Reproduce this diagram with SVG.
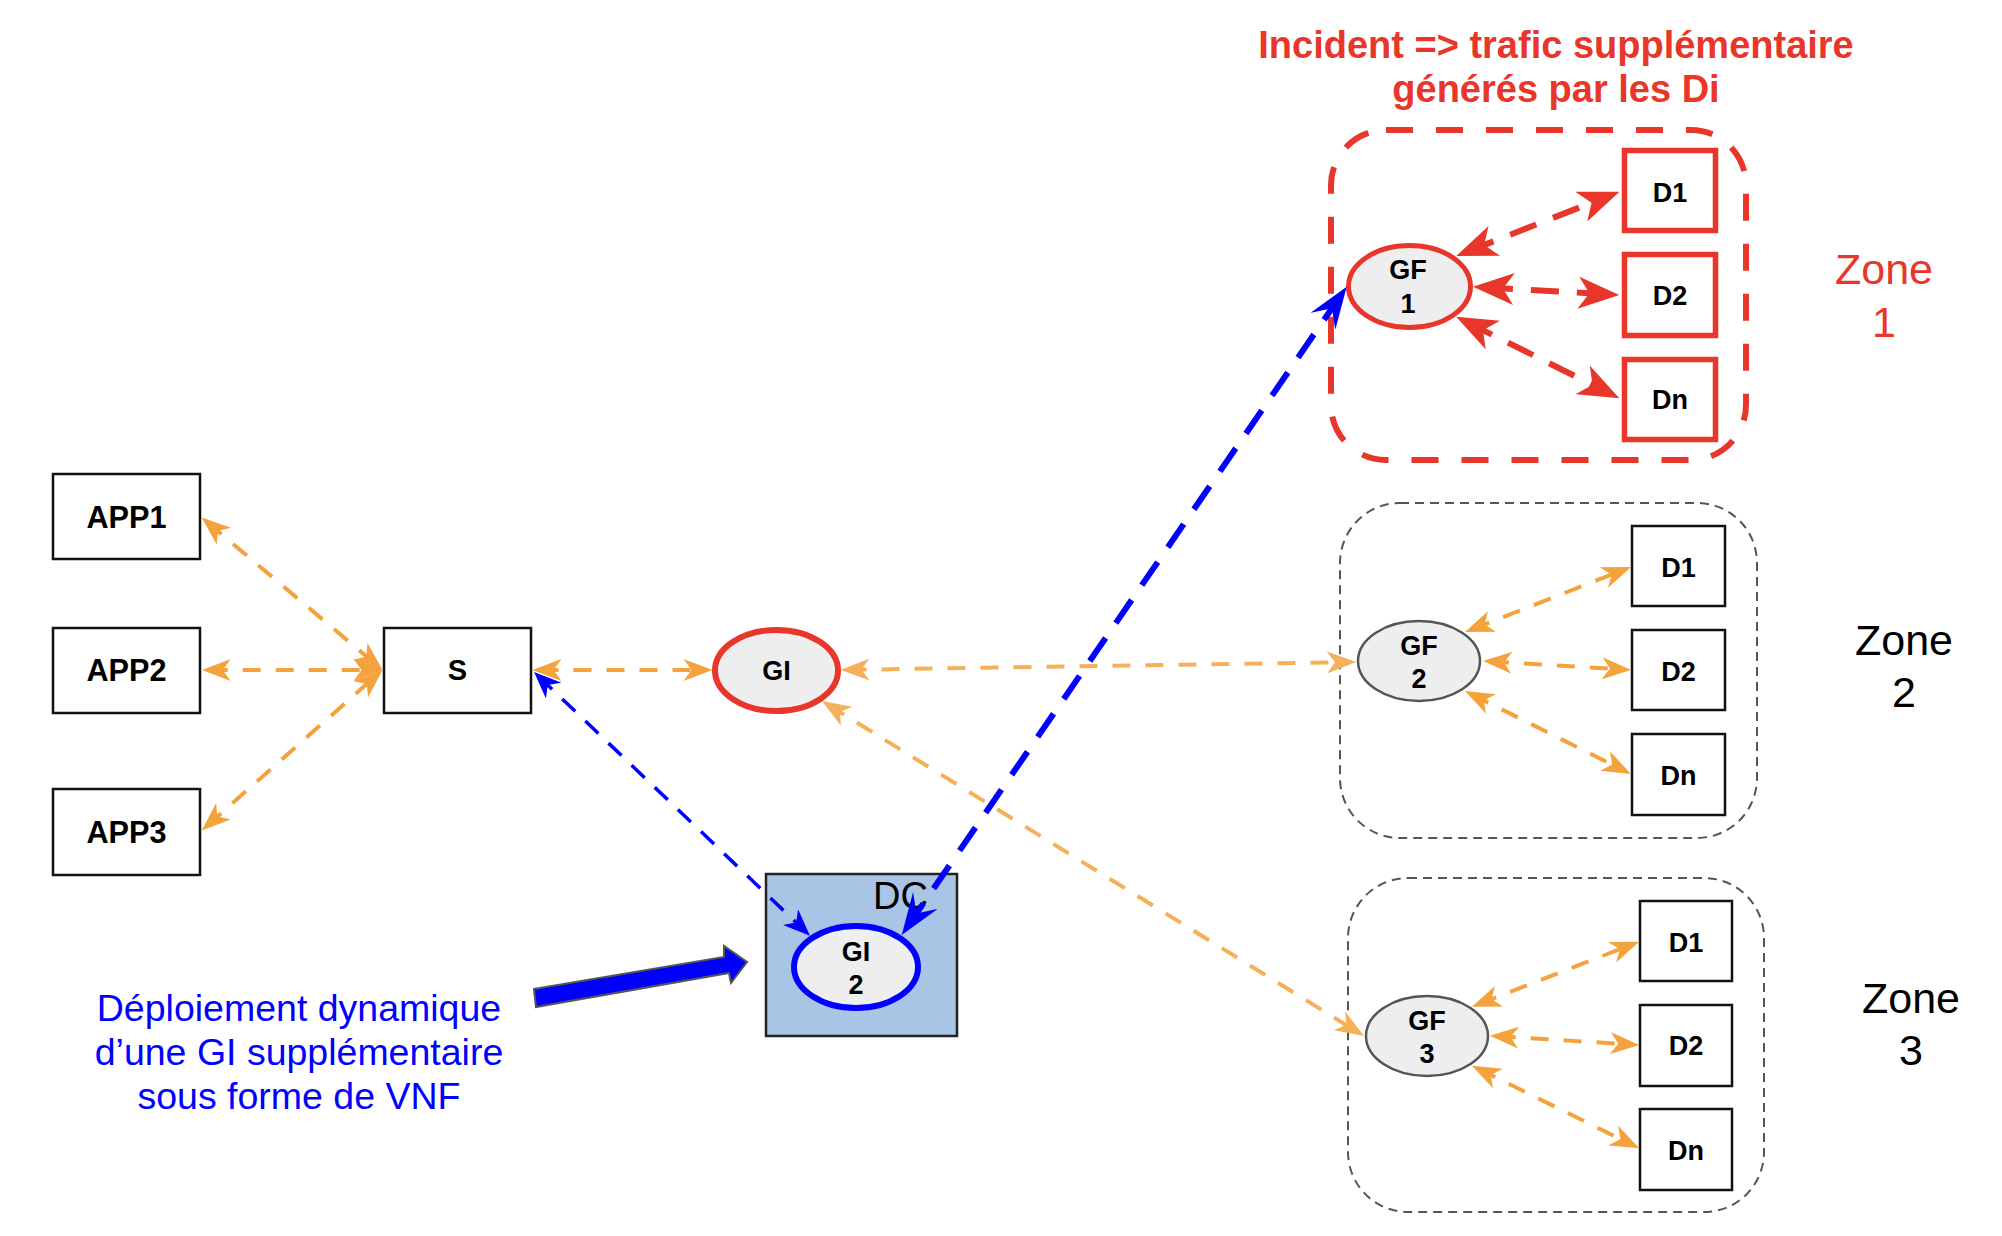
<svg xmlns="http://www.w3.org/2000/svg" width="2002" height="1236" viewBox="0 0 2002 1236">
<style>
.box{fill:#fff;stroke:#111;stroke-width:2.5}
.rbox{fill:#fff;stroke:#e8362a;stroke-width:5.5}
.ell{fill:#eeeeee;stroke:#555;stroke-width:2.5}
.lbl{font-family:"Liberation Sans",Arial,sans-serif;font-weight:bold;fill:#000;text-anchor:middle}
.zone{font-family:"Liberation Sans",Arial,sans-serif;font-size:43px;text-anchor:middle}
.org{fill:none;stroke:#f4a23c;stroke-width:4;stroke-dasharray:18 15;marker-start:url(#mo);marker-end:url(#mo)}
.org2{fill:none;stroke:#f5b05a;stroke-width:4;stroke-dasharray:18 15;marker-start:url(#mo2);marker-end:url(#mo2)}
.red{fill:none;stroke:#e8362a;stroke-width:6;stroke-dasharray:28 18;marker-start:url(#mr);marker-end:url(#mr)}
.blu{fill:none;stroke:#0000ff;stroke-width:6;stroke-dasharray:28 18;marker-start:url(#mb);marker-end:url(#mb)}
.blu2{fill:none;stroke:#0000ff;stroke-width:3.5;stroke-dasharray:18 14;marker-start:url(#mb2);marker-end:url(#mb2)}
</style>
<defs>
<marker id="mo" markerUnits="userSpaceOnUse" viewBox="0 0 29 22" markerWidth="29" markerHeight="22" refX="21" refY="11" orient="auto-start-reverse"><path d="M0,0 L29,11 L0,22 L8,11 Z" fill="#f4a23c"/></marker>
<marker id="mo2" markerUnits="userSpaceOnUse" viewBox="0 0 29 22" markerWidth="29" markerHeight="22" refX="21" refY="11" orient="auto-start-reverse"><path d="M0,0 L29,11 L0,22 L8,11 Z" fill="#f5b05a"/></marker>
<marker id="mr" markerUnits="userSpaceOnUse" viewBox="0 0 41 32" markerWidth="41" markerHeight="32" refX="29" refY="16" orient="auto-start-reverse"><path d="M0,0 L41,16 L0,32 L11,16 Z" fill="#e8362a"/></marker>
<marker id="mb" markerUnits="userSpaceOnUse" viewBox="0 0 42 30" markerWidth="42" markerHeight="30" refX="30" refY="15" orient="auto-start-reverse"><path d="M0,0 L42,15 L0,30 L16,15 Z" fill="#0000ff"/></marker>
<marker id="mb2" markerUnits="userSpaceOnUse" viewBox="0 0 27 22" markerWidth="27" markerHeight="22" refX="20" refY="11" orient="auto-start-reverse"><path d="M0,0 L27,11 L0,22 L8,11 Z" fill="#0000ff"/></marker>
</defs>
<rect width="2002" height="1236" fill="#fff"/>

<g id="zones">
<rect id="zone1" x="1331" y="130" width="415" height="330" rx="55" fill="none" stroke="#e8362a" stroke-width="6" stroke-dasharray="27 23"/>
<rect id="zone2" x="1340" y="503" width="417" height="335" rx="60" fill="none" stroke="#555" stroke-width="2" stroke-dasharray="9 6"/>
<rect id="zone3" x="1348" y="878" width="416" height="334" rx="60" fill="none" stroke="#555" stroke-width="2" stroke-dasharray="9 6"/>
</g>

<g id="texts">
<text font-family="'Liberation Sans',Arial,sans-serif" font-weight="bold" font-size="38" fill="#e8362a" text-anchor="middle"><tspan x="1556" y="58">Incident =&gt; trafic supplémentaire</tspan><tspan x="1556" y="102">générés par les Di</tspan></text>
<text class="zone" fill="#e8362a"><tspan x="1884" y="284">Zone</tspan><tspan x="1884" y="337">1</tspan></text>
<text class="zone" fill="#000"><tspan x="1904" y="655">Zone</tspan><tspan x="1904" y="707">2</tspan></text>
<text class="zone" fill="#000"><tspan x="1911" y="1013">Zone</tspan><tspan x="1911" y="1065">3</tspan></text>
<text font-family="'Liberation Sans',Arial,sans-serif" font-size="37.5" fill="#0000ff" text-anchor="middle"><tspan x="299" y="1021">Déploiement dynamique</tspan><tspan x="299" y="1065">d’une GI supplémentaire</tspan><tspan x="299" y="1109">sous forme de VNF</tspan></text>
</g>

<g id="nodes">
<g id="app1"><rect class="box" x="53" y="474" width="147" height="85"/><text class="lbl" x="126.5" y="528" font-size="32" textLength="80" lengthAdjust="spacingAndGlyphs">APP1</text></g>
<g id="app2"><rect class="box" x="53" y="628" width="147" height="85"/><text class="lbl" x="126.5" y="681" font-size="32" textLength="80" lengthAdjust="spacingAndGlyphs">APP2</text></g>
<g id="app3"><rect class="box" x="53" y="789" width="147" height="86"/><text class="lbl" x="126.5" y="843" font-size="32" textLength="80" lengthAdjust="spacingAndGlyphs">APP3</text></g>
<g id="s"><rect class="box" x="384" y="628" width="147" height="85"/><text class="lbl" x="457.5" y="680" font-size="29">S</text></g>
<g id="gi"><ellipse cx="776.5" cy="670.5" rx="61.5" ry="40.5" fill="#eeeeee" stroke="#e8362a" stroke-width="6"/><text class="lbl" x="776.5" y="680" font-size="27">GI</text></g>
<g id="dc"><rect x="766" y="874" width="191" height="162" fill="#a8c5e6" stroke="#222" stroke-width="2.5"/><text x="873" y="909" font-family="'Liberation Sans',Arial,sans-serif" font-size="38" fill="#000">DC</text></g>
<g id="gi2"><ellipse cx="856" cy="967" rx="62" ry="41" fill="#eeeeee" stroke="#0000ff" stroke-width="6"/><text class="lbl" font-size="27"><tspan x="856" y="961">GI</tspan><tspan x="856" y="994">2</tspan></text></g>

<g id="gf1"><ellipse cx="1409.5" cy="286.5" rx="61" ry="41" fill="#eeeeee" stroke="#e8362a" stroke-width="5"/><text class="lbl" font-size="27"><tspan x="1408" y="279">GF</tspan><tspan x="1408" y="313">1</tspan></text></g>
<g id="z1d1"><rect class="rbox" x="1624.5" y="150.5" width="91" height="80"/><text class="lbl" x="1670" y="202" font-size="27">D1</text></g>
<g id="z1d2"><rect class="rbox" x="1624.5" y="254.5" width="91" height="81"/><text class="lbl" x="1670" y="305" font-size="27">D2</text></g>
<g id="z1dn"><rect class="rbox" x="1624.5" y="359.5" width="91" height="80"/><text class="lbl" x="1670" y="409" font-size="27">Dn</text></g>

<g id="gf2"><ellipse class="ell" cx="1419" cy="661" rx="61" ry="40"/><text class="lbl" font-size="27"><tspan x="1419" y="655">GF</tspan><tspan x="1419" y="688">2</tspan></text></g>
<g id="z2d1"><rect class="box" x="1632" y="526" width="93" height="80"/><text class="lbl" x="1678.5" y="577" font-size="27">D1</text></g>
<g id="z2d2"><rect class="box" x="1632" y="630" width="93" height="80"/><text class="lbl" x="1678.5" y="681" font-size="27">D2</text></g>
<g id="z2dn"><rect class="box" x="1632" y="734" width="93" height="81"/><text class="lbl" x="1678.5" y="785" font-size="27">Dn</text></g>

<g id="gf3"><ellipse class="ell" cx="1427" cy="1036" rx="61" ry="40"/><text class="lbl" font-size="27"><tspan x="1427" y="1030">GF</tspan><tspan x="1427" y="1063">3</tspan></text></g>
<g id="z3d1"><rect class="box" x="1640" y="901" width="92" height="80"/><text class="lbl" x="1686" y="952" font-size="27">D1</text></g>
<g id="z3d2"><rect class="box" x="1640" y="1005" width="92" height="81"/><text class="lbl" x="1686" y="1055" font-size="27">D2</text></g>
<g id="z3dn"><rect class="box" x="1640" y="1109" width="92" height="81"/><text class="lbl" x="1686" y="1160" font-size="27">Dn</text></g>

<g id="deploy-arrow"><polygon points="534,989 724,957 724,946 747,962 731,983 729,973 536,1007" fill="#0000ff" stroke="#555" stroke-width="2" stroke-linejoin="miter"/></g>
</g>

<g id="connectors">
<line class="org" x1="207.8" y1="522.7" x2="376.4" y2="664.8"/>
<line class="org" x1="209.7" y1="670" x2="374.5" y2="670"/>
<line class="org" x1="207.7" y1="825.2" x2="376.5" y2="675.3"/>
<line class="org" x1="540.5" y1="670" x2="704.5" y2="670"/>
<line class="org2" x1="848.5" y1="669.9" x2="1348" y2="662.1"/>
<line class="org2" x1="828.8" y1="705.2" x2="1357.2" y2="1031.8"/>
<line class="org" x1="1472.4" y1="629.1" x2="1623.6" y2="569.9"/>
<line class="org" x1="1491" y1="661.5" x2="1623" y2="669.5"/>
<line class="org" x1="1472.2" y1="694.6" x2="1623.8" y2="770.4"/>
<line class="org" x1="1479.4" y1="1003.8" x2="1631.8" y2="944.6"/>
<line class="org" x1="1497.7" y1="1036.2" x2="1631.3" y2="1044.5"/>
<line class="org" x1="1479.1" y1="1069.2" x2="1632.1" y2="1144.8"/>
<line class="red" x1="1467.4" y1="251.6" x2="1608.3" y2="196.1"/>
<line class="red" x1="1485" y1="287.4" x2="1607.3" y2="294.3"/>
<line class="red" x1="1466.9" y1="322.1" x2="1608.6" y2="392.9"/>
<line class="blu" x1="1339.9" y1="296.6" x2="908.5" y2="925.1"/>
<line class="blu2" x1="539.1" y1="676.8" x2="804.9" y2="930.9"/>
</g>
</svg>
